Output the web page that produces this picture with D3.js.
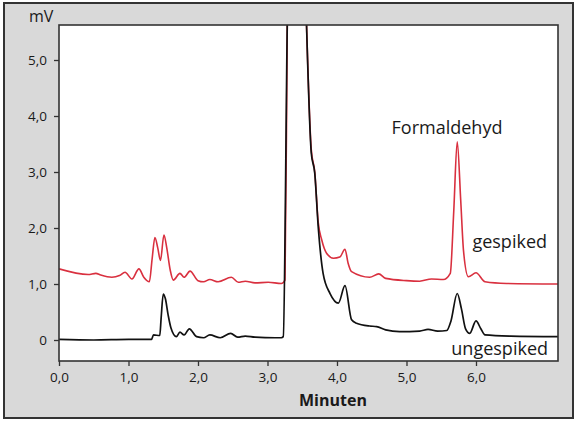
<!DOCTYPE html>
<html>
<head>
<meta charset="utf-8">
<script src="https://cdn.jsdelivr.net/npm/d3@7"></script>
<style>
  body { margin: 0; background: #fff; }
  svg text { font-family: "Open Sans", "Noto Sans", sans-serif; fill: #1a1a1a; }
</style>
</head>
<body>
<svg width="580" height="424"></svg>
<script>
// retention time (min) and signal (mV)
const tUnspiked = [0, 0.5, 1.0, 1.33, 1.36, 1.45, 1.47, 1.5, 1.53, 1.57, 1.61, 1.69, 1.74, 1.8, 1.875, 1.98, 2.08, 2.17, 2.32, 2.47, 2.57, 2.68, 2.82, 3.11, 3.2, 3.227, 3.285, 3.42, 3.56, 3.63, 3.68, 3.73, 3.8, 3.9, 4.02, 4.115, 4.21, 4.28, 4.47, 4.57, 4.7, 4.9, 5.19, 5.31, 5.45, 5.58, 5.64, 5.73, 5.79, 5.85, 5.91, 6.0, 6.07, 6.13, 6.5, 7.2]
const vUnspiked = [0.01, 0.0, 0.01, 0.01, 0.09, 0.08, 0.4, 0.82, 0.74, 0.45, 0.22, 0.06, 0.14, 0.09, 0.2, 0.06, 0.04, 0.09, 0.04, 0.12, 0.05, 0.07, 0.05, 0.04, 0.04, 0.06, 5.7, 14, 5.7, 3.34, 2.98, 2.02, 1.19, 0.83, 0.66, 0.97, 0.36, 0.3, 0.25, 0.24, 0.18, 0.15, 0.16, 0.19, 0.16, 0.17, 0.34, 0.83, 0.56, 0.2, 0.12, 0.34, 0.2, 0.09, 0.07, 0.06]

const tSpiked = [0, 0.42, 0.53, 0.6, 0.76, 0.87, 0.95, 1.05, 1.15, 1.22, 1.3, 1.34, 1.38, 1.42, 1.46, 1.51, 1.55, 1.6, 1.645, 1.74, 1.8, 1.885, 2.0, 2.08, 2.17, 2.29, 2.48, 2.58, 2.68, 2.82, 3.01, 3.2, 3.252, 3.285, 3.42, 3.56, 3.63, 3.68, 3.73, 3.78, 3.85, 3.95, 4.04, 4.115, 4.16, 4.21, 4.47, 4.6, 4.7, 5.0, 5.19, 5.36, 5.53, 5.63, 5.68, 5.73, 5.78, 5.82, 5.89, 6.0, 6.13, 6.44, 7.2]
const vSpiked = [1.27, 1.17, 1.19, 1.16, 1.12, 1.15, 1.21, 1.09, 1.27, 1.12, 1.04, 1.45, 1.83, 1.65, 1.42, 1.875, 1.65, 1.25, 1.07, 1.19, 1.12, 1.23, 1.06, 1.04, 1.08, 1.04, 1.12, 1.03, 1.05, 1.02, 1.03, 1.01, 1.07, 5.7, 14, 5.7, 3.4, 3.0, 2.1, 1.79, 1.55, 1.46, 1.48, 1.62, 1.37, 1.22, 1.12, 1.18, 1.1, 1.06, 1.05, 1.09, 1.08, 1.19, 2.3, 3.54, 2.5, 1.6, 1.13, 1.2, 1.04, 1.01, 1.0]

const xTicks = [0, 1, 2, 3, 4, 5, 6]
const xTickLabels = ["0,0", "1,0", "2,0", "3,0", "4,0", "5,0", "6,0"]
const yTicks = [0, 1, 2, 3, 4, 5]
const yTickLabels = ["0", "1,0", "2,0", "3,0", "4,0", "5,0"]

var svg = d3.select("svg")

// gray panel
svg.append("rect")
    .attr("x", 4).attr("y", 3)
    .attr("width", 569).attr("height", 415)
    .attr("fill", "#d9d9d9")
    .attr("stroke", "#333")
    .attr("stroke-width", 2)

var plot = { left: 59, right: 558, top: 25, bottom: 361 }

var x = d3.scaleLinear().domain([0, 7.18]).range([plot.left, plot.right])
var y = d3.scaleLinear().domain([-0.375, 5.625]).range([plot.bottom, plot.top])

svg.append("rect")
    .attr("x", plot.left).attr("y", plot.top)
    .attr("width", plot.right - plot.left).attr("height", plot.bottom - plot.top)
    .attr("fill", "#fff")

svg.append("clipPath")
    .attr("id", "clip")
    .append("rect")
    .attr("x", plot.left).attr("y", plot.top)
    .attr("width", plot.right - plot.left).attr("height", plot.bottom - plot.top)

var line = d3.line()
    .x(d => x(d[0]))
    .y(d => y(d[1]))
    .curve(d3.curveMonotoneX)

svg.append("path")
    .datum(d3.zip(tSpiked, vSpiked))
    .attr("clip-path", "url(#clip)")
    .attr("d", line)
    .attr("fill", "none")
    .attr("stroke", "#d9303f")
    .attr("stroke-width", 1.6)

svg.append("path")
    .datum(d3.zip(tUnspiked, vUnspiked))
    .attr("clip-path", "url(#clip)")
    .attr("d", line)
    .attr("fill", "none")
    .attr("stroke", "#111")
    .attr("stroke-width", 1.7)

svg.append("rect")
    .attr("x", plot.left).attr("y", plot.top)
    .attr("width", plot.right - plot.left).attr("height", plot.bottom - plot.top)
    .attr("fill", "none")
    .attr("stroke", "#333")
    .attr("stroke-width", 1.6)

// axes
var xAxis = svg.append("g")
    .attr("transform", `translate(0,${plot.bottom})`)
    .call(d3.axisBottom(x).tickValues(xTicks).tickSize(5).tickPadding(6)
        .tickFormat((d, i) => xTickLabels[i]))
xAxis.select(".domain").remove()

var yAxis = svg.append("g")
    .attr("transform", `translate(${plot.left},0)`)
    .call(d3.axisLeft(y).tickValues(yTicks).tickSize(5).tickPadding(7)
        .tickFormat((d, i) => yTickLabels[i]))
yAxis.select(".domain").remove()

svg.selectAll(".tick line").attr("stroke", "#333").attr("stroke-width", 1.3)
svg.selectAll(".tick text")
    .style("font-family", "'Open Sans', sans-serif")
    .style("font-size", "13.5px")
    .attr("fill", "#1a1a1a")

svg.append("text")
    .attr("x", 29).attr("y", 22)
    .style("font-size", "16px")
    .text("mV")

svg.append("text")
    .attr("x", 333).attr("y", 406)
    .attr("text-anchor", "middle")
    .style("font-size", "16px")
    .style("font-weight", "bold")
    .text("Minuten")

svg.append("text")
    .attr("x", 447).attr("y", 134)
    .attr("text-anchor", "middle")
    .style("font-size", "18px")
    .text("Formaldehyd")

svg.append("text")
    .attr("x", 547).attr("y", 248)
    .attr("text-anchor", "end")
    .style("font-size", "18px")
    .text("gespiked")

svg.append("text")
    .attr("x", 548).attr("y", 355)
    .attr("text-anchor", "end")
    .style("font-size", "18px")
    .text("ungespiked")
</script>
</body>
</html>
